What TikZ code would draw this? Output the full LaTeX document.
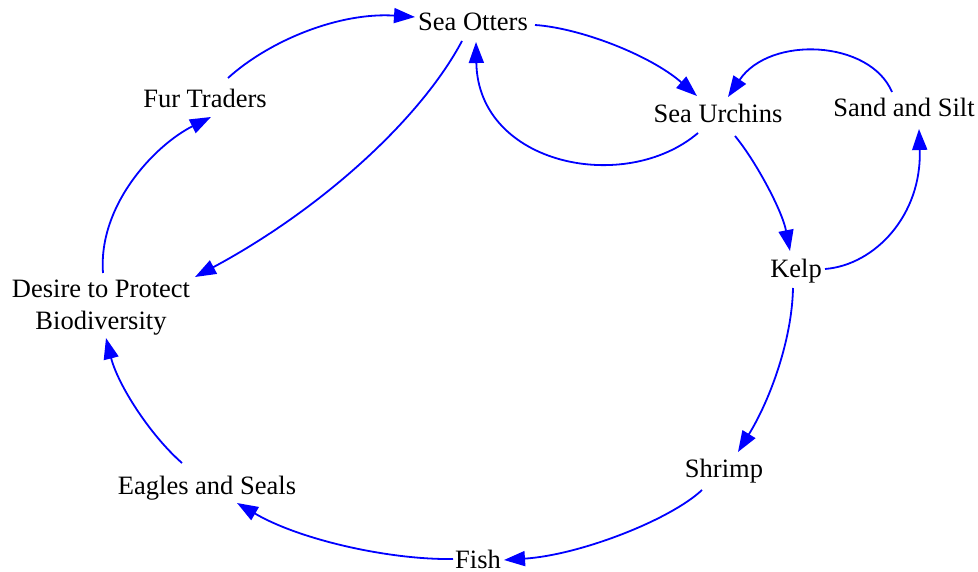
\documentclass[tikz,border=0pt]{standalone}
\usepackage{fontspec}
\setmainfont{Liberation Serif}
\usetikzlibrary{arrows.meta}
\definecolor{edgeblue}{RGB}{0,0,255}
\tikzset{
  lbl/.style={inner sep=0pt, font=\fontsize{26.5}{32}\selectfont, text=black},
  edge/.style={draw=edgeblue, line width=1.8pt, -{Triangle[length=21pt,width=15pt]}, fill=none},
}
\begin{document}
\begin{tikzpicture}[x=1pt,y=-1pt]
\useasboundingbox (0,0) rectangle (978,572);
\node[lbl, anchor=base] (otters) at (473,31) {Sea Otters};
\node[lbl, anchor=base] (urchins) at (718,123) {Sea Urchins};
\node[lbl, anchor=base] (sand) at (904,117) {Sand and Silt};
\node[lbl, anchor=base] (kelp) at (796,278) {Kelp};
\node[lbl, anchor=base] (shrimp) at (724,477) {Shrimp};
\node[lbl, anchor=base] (fish) at (478,568) {Fish};
\node[lbl, anchor=base] (eagles) at (207,494) {Eagles and Seals};
\node[lbl, anchor=base] (fur) at (205,108) {Fur Traders};
\node[lbl, align=center] (desire) at (101,308) {Desire to Protect\\Biodiversity};

% Fur Traders -> Sea Otters
\draw[edge] ([shift={(23,-30)}]fur.base) .. controls +(42,-38) and +(-75,-5) .. ([shift={(-58,-14)}]otters.base);
% Sea Otters -> Sea Urchins
\draw[edge] ([shift={(62,-6)}]otters.base) .. controls +(45,3) and +(-47,-41) .. ([shift={(-21,-27)}]urchins.base);
% Sea Urchins -> Sea Otters
\draw[edge] ([shift={(-20,10)}]urchins.base) .. controls +(-73,62) and +(2,123) .. ([shift={(3,11)}]otters.base);
% Sand and Silt -> Sea Urchins
\draw[edge] ([shift={(-12,-25)}]sand.base) .. controls +(-22,-52) and +(42,-62) .. ([shift={(10,-26)}]urchins.base);
% Sea Urchins -> Kelp
\draw[edge] ([shift={(17,13)}]urchins.base) .. controls +(20,24) and +(-8,-41) .. ([shift={(-6,-27)}]kelp.base);
% Kelp -> Sand and Silt
\draw[edge] ([shift={(29,-9)}]kelp.base) .. controls +(50,-4) and +(3,86) .. ([shift={(15,12)}]sand.base);
% Kelp -> Shrimp
\draw[edge] ([shift={(-3,10)}]kelp.base) .. controls +(-1,52) and +(32,-52) .. ([shift={(14,-25)}]shrimp.base);
% Shrimp -> Fish
\draw[edge] ([shift={(-22,13)}]shrimp.base) .. controls +(-32,30) and +(76,-5) .. ([shift={(26,-8)}]fish.base);
% Fish -> Eagles and Seals
\draw[edge] ([shift={(-25,-9)}]fish.base) .. controls +(-63,1) and +(63,37) .. ([shift={(30,9)}]eagles.base);
% Eagles and Seals -> Desire
\draw[edge] ([shift={(-25,-31)}]eagles.base) .. controls +(-32,-28) and +(12,47) .. ([shift={(5,30)}]desire.center);
% Desire -> Fur Traders
\draw[edge] ([shift={(2,-35)}]desire.center) .. controls +(-5,-68) and +(-56,28) .. ([shift={(6,9)}]fur.base);
% Sea Otters -> Desire
\draw[edge] ([shift={(-11,10)}]otters.base) .. controls +(-42,79) and +(125,-67) .. ([shift={(94,-31)}]desire.center);
\end{tikzpicture}
\end{document}
